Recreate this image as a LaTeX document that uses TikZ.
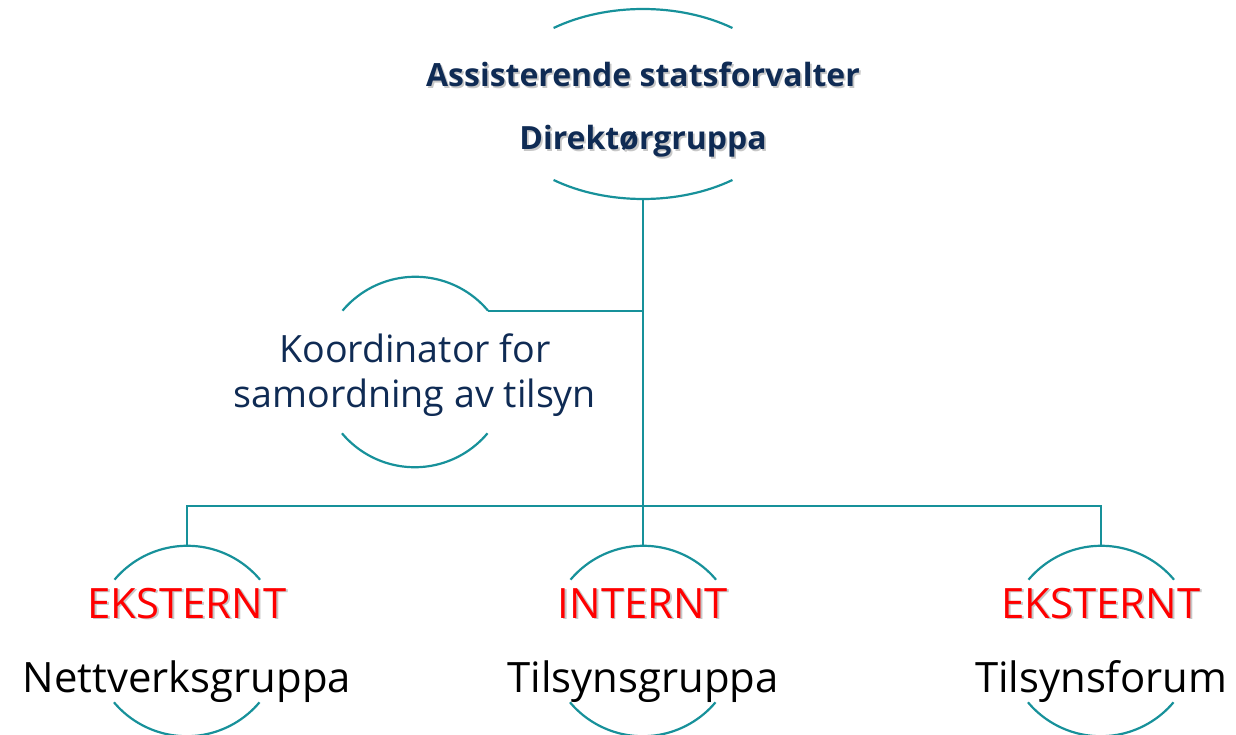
\documentclass[tikz,border=0pt]{standalone}
\usepackage{fontspec}
\setmainfont{Open Sans}
\definecolor{sfteal}{HTML}{17919A}
\definecolor{sfnavy}{HTML}{0F2B54}
\definecolor{sfred}{HTML}{FF0000}
\usetikzlibrary{shapes.geometric,calc}
\newcommand{\shadowtxt}[1]{\makebox[0pt][l]{\hspace{1pt}\raisebox{-1pt}{\textcolor{black!22}{#1}}}#1}

\begin{document}
\begin{tikzpicture}[
  ring/.style={circle, minimum size=3.8cm, inner sep=0pt},
  oval/.style={ellipse, minimum width=5.96cm, minimum height=3.8cm, inner sep=0pt},
  arcline/.style={sfteal, line width=1.25pt},
  link/.style={sfteal, line width=1.25pt},
  headtxt/.style={font=\fontsize{18.2}{22}\selectfont\bfseries, text=sfnavy, anchor=base, inner sep=0pt},
  koordtxt/.style={font=\fontsize{21.4}{26}\selectfont, text=sfnavy, anchor=base, inner sep=0pt},
  kindtxt/.style={font=\fontsize{23.8}{28}\selectfont, text=sfred, anchor=base, inner sep=0pt},
  unittxt/.style={font=\fontsize{23.8}{28}\selectfont, text=black, anchor=base, inner sep=0pt}
]
  \useasboundingbox (0,0) rectangle (24.72,-14.70);

  % frames
  \node[oval] (dir) at (12.86,-2.08) {};
  \node[ring] (koord) at (8.30,-7.44) {};
  \node[ring] (nett) at (3.74,-12.82) {};
  \node[ring] (intern) at (12.86,-12.82) {};
  \node[ring] (forum) at (22.02,-12.82) {};

  \draw[arcline] (dir.center) ++(53.13:2.98cm and 1.9cm)
    arc[start angle=53.13, end angle=126.87, x radius=2.98cm, y radius=1.9cm];
  \draw[arcline] (dir.center) ++(233.13:2.98cm and 1.9cm)
    arc[start angle=233.13, end angle=306.87, x radius=2.98cm, y radius=1.9cm];
  \foreach \n in {koord,nett,intern,forum} {
    \draw[arcline] (\n.40) arc[start angle=40, end angle=140, radius=1.9cm];
    \draw[arcline] (\n.220) arc[start angle=220, end angle=320, radius=1.9cm];
  }

  % texts
  \node[headtxt] (dir-a) at (12.86,-1.74) {\shadowtxt{Assisterende statsforvalter}};
  \node[headtxt] (dir-b) at (12.86,-3.00) {\shadowtxt{Direktørgruppa}};
  \node[koordtxt] (koord-a) at (8.30,-7.24) {Koordinator for};
  \node[koordtxt] (koord-b) at (8.30,-8.14) {samordning av tilsyn};

  \node[kindtxt] (nett-k) at (3.74,-12.36) {\shadowtxt{EKSTERNT}};
  \node[unittxt] (nett-n) at (3.74,-13.84) {Nettverksgruppa};
  \node[kindtxt] (intern-k) at (12.86,-12.36) {\shadowtxt{INTERNT}};
  \node[unittxt] (intern-n) at (12.86,-13.84) {Tilsynsgruppa};
  \node[kindtxt] (forum-k) at (22.02,-12.36) {\shadowtxt{EKSTERNT}};
  \node[unittxt] (forum-n) at (22.02,-13.84) {Tilsynsforum};

  % lines
  \coordinate (bus) at (12.86,-10.12);
  \draw[link] (dir.south) -- (intern.north);
  \draw[link] (koord.40) -- (koord.40 -| dir.south);
  \draw[link] (nett.north) |- (bus) -| (forum.north);
\end{tikzpicture}
\end{document}
